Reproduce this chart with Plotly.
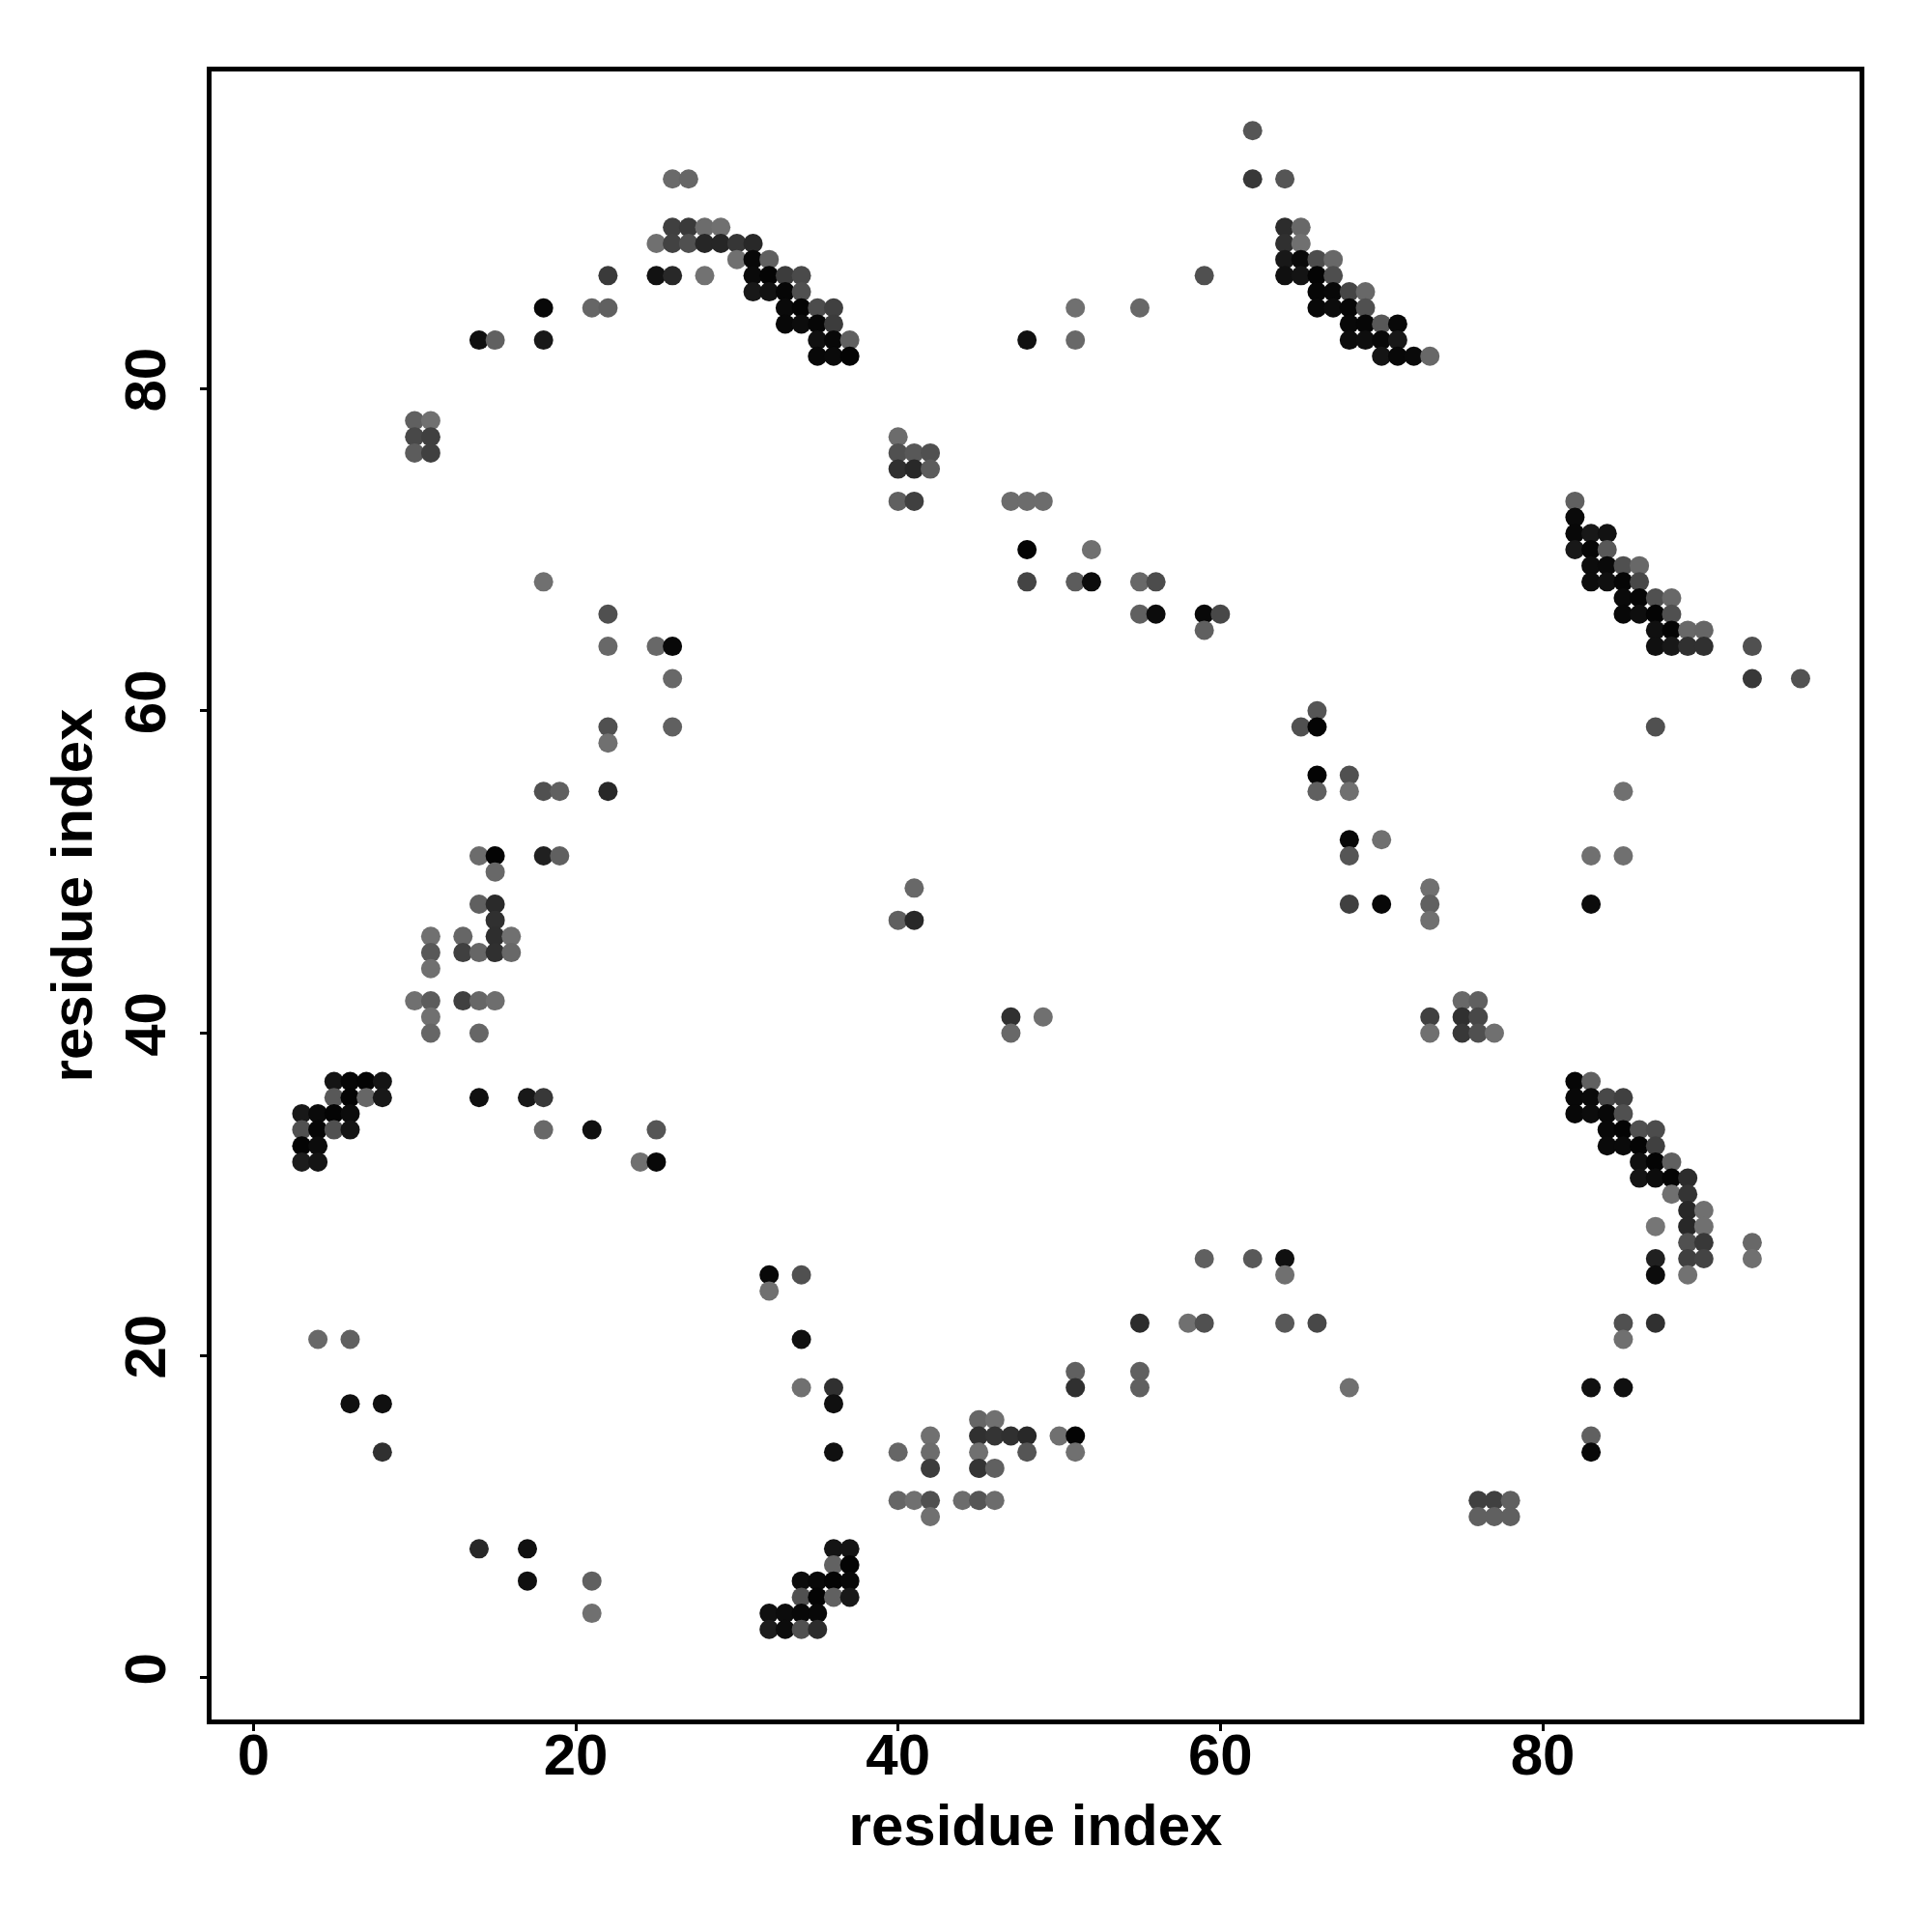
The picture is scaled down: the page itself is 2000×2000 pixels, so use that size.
import plotly.graph_objects as go

# Contacts, row by row: residue_x, residue_y and shade (0 = black, 255 = white)
residue_x = [
 62,
 26,27,62,64,
 26,27,28,29,64,65,
 25,26,27,28,29,30,31,64,65,
 30,31,32,64,65,66,67,
 22,25,26,28,31,32,33,34,59,64,65,66,67,
 31,32,33,34,66,67,68,69,
 18,21,22,33,34,35,36,51,55,66,67,68,69,
 33,34,35,36,68,69,70,71,
 14,15,18,35,36,37,48,51,68,69,70,71,
 35,36,37,70,71,72,73,
 10,11,
 10,11,40,
 10,11,40,41,42,
 40,41,42,
 40,41,47,48,49,82,
 82,
 82,83,84,
 48,52,82,83,84,
 83,84,85,86,
 18,48,51,52,55,56,83,84,85,86,
 85,86,87,88,
 22,55,56,59,60,85,86,87,88,
 59,87,88,89,90,
 22,25,26,87,88,89,90,93,
 26,93,96,
 66,
 22,26,65,66,87,
 22,
 66,68,
 18,19,22,66,68,85,
 68,70,
 14,15,18,19,68,83,85,
 15,
 41,73,
 14,15,68,70,73,83,
 15,40,41,73,
 11,13,15,16,
 11,13,14,15,16,
 11,
 10,11,13,14,15,75,76,
 11,47,49,73,75,76,
 11,14,47,73,75,76,77,
 5,6,7,8,82,83,
 5,6,7,8,14,17,18,82,83,84,85,
 3,4,5,6,82,83,84,85,
 3,4,5,6,18,21,25,84,85,86,87,
 3,4,84,85,86,87,
 3,4,24,25,86,87,88,
 86,87,88,89,
 88,89,
 89,90,
 87,89,90,
 89,90,93,
 59,62,64,87,89,90,93,
 32,34,64,87,89,
 32,
 55,58,59,64,66,85,87,
 4,6,34,85,
 51,55,
 34,36,51,55,68,83,85,
 6,8,36,
 45,46,
 42,45,46,47,48,50,51,83,
 8,36,40,42,45,48,51,83,
 42,45,46,
 40,41,42,44,45,46,76,77,78,
 42,76,77,78,
 14,17,36,37,
 36,37,
 17,21,34,35,36,37,
 34,35,36,37,
 21,32,33,34,35,
 32,33,34,35,
]
residue_y = [
 96,
 93,93,93,93,
 90,90,90,90,90,90,
 89,89,89,89,89,89,89,89,89,
 88,88,88,88,88,88,88,
 87,87,87,87,87,87,87,87,87,87,87,87,87,
 86,86,86,86,86,86,86,86,
 85,85,85,85,85,85,85,85,85,85,85,85,85,
 84,84,84,84,84,84,84,84,
 83,83,83,83,83,83,83,83,83,83,83,83,
 82,82,82,82,82,82,82,
 78,78,
 77,77,77,
 76,76,76,76,76,
 75,75,75,
 73,73,73,73,73,73,
 72,
 71,71,71,
 70,70,70,70,70,
 69,69,69,69,
 68,68,68,68,68,68,68,68,68,68,
 67,67,67,67,
 66,66,66,66,66,66,66,66,66,
 65,65,65,65,65,
 64,64,64,64,64,64,64,64,
 62,62,62,
 60,
 59,59,59,59,59,
 58,
 56,56,
 55,55,55,55,55,55,
 52,52,
 51,51,51,51,51,51,51,
 50,
 49,49,
 48,48,48,48,48,48,
 47,47,47,47,
 46,46,46,46,
 45,45,45,45,45,
 44,
 42,42,42,42,42,42,42,
 41,41,41,41,41,41,
 40,40,40,40,40,40,40,
 37,37,37,37,37,37,
 36,36,36,36,36,36,36,36,36,36,36,
 35,35,35,35,35,35,35,35,
 34,34,34,34,34,34,34,34,34,34,34,
 33,33,33,33,33,33,
 32,32,32,32,32,32,32,
 31,31,31,31,
 30,30,
 29,29,
 28,28,28,
 27,27,27,
 26,26,26,26,26,26,26,
 25,25,25,25,25,
 24,
 22,22,22,22,22,22,22,
 21,21,21,21,
 19,19,
 18,18,18,18,18,18,18,
 17,17,17,
 16,16,
 15,15,15,15,15,15,15,15,
 14,14,14,14,14,14,14,14,
 13,13,13,
 11,11,11,11,11,11,11,11,11,
 10,10,10,10,
 8,8,8,8,
 7,7,
 6,6,6,6,6,6,
 5,5,5,5,
 4,4,4,4,4,
 3,3,3,3,
]
shade = [
 0x55,
 0x6a,0x66,0x38,0x55,
 0x40,0x3a,0x6c,0x70,0x2c,0x68,
 0x70,0x42,0x50,0x26,0x26,0x36,0x28,0x30,0x70,
 0x70,0x08,0x60,0x18,0x0a,0x4c,0x68,
 0x3a,0x12,0x28,0x72,0x0a,0x04,0x3c,0x4a,0x50,0x10,0x14,0x04,0x4e,
 0x18,0x12,0x06,0x50,0x06,0x08,0x46,0x68,
 0x08,0x66,0x60,0x0a,0x04,0x4c,0x40,0x70,0x68,0x08,0x0c,0x06,0x50,
 0x08,0x0c,0x06,0x3c,0x08,0x06,0x58,0x08,
 0x10,0x60,0x18,0x10,0x08,0x60,0x10,0x68,0x0c,0x0e,0x08,0x18,
 0x08,0x0a,0x04,0x14,0x08,0x0a,0x68,
 0x60,0x70,
 0x48,0x40,0x6c,
 0x5c,0x40,0x50,0x58,0x50,
 0x30,0x28,0x5c,
 0x60,0x40,0x6c,0x6c,0x6c,0x60,
 0x0a,
 0x08,0x18,0x12,
 0x04,0x70,0x18,0x06,0x58,
 0x0c,0x0a,0x50,0x68,
 0x70,0x44,0x5c,0x0c,0x68,0x4c,0x0c,0x10,0x06,0x48,
 0x0a,0x06,0x50,0x68,
 0x50,0x60,0x0c,0x08,0x48,0x08,0x0e,0x04,0x50,
 0x60,0x10,0x04,0x68,0x66,
 0x68,0x68,0x08,0x10,0x18,0x30,0x30,0x50,
 0x68,0x38,0x52,
 0x55,
 0x50,0x60,0x50,0x04,0x50,
 0x70,
 0x04,0x50,
 0x50,0x60,0x28,0x60,0x70,0x70,
 0x08,0x70,
 0x6c,0x04,0x20,0x60,0x55,0x70,0x70,
 0x68,
 0x68,0x70,
 0x60,0x2a,0x40,0x08,0x60,0x0c,
 0x30,0x60,0x28,0x70,
 0x70,0x66,0x2e,0x70,
 0x58,0x40,0x66,0x30,0x68,
 0x70,
 0x70,0x5c,0x40,0x66,0x6e,0x68,0x60,
 0x70,0x30,0x70,0x40,0x30,0x48,
 0x66,0x66,0x68,0x70,0x38,0x50,0x70,
 0x14,0x06,0x04,0x14,0x06,0x60,
 0x58,0x04,0x66,0x18,0x10,0x18,0x38,0x08,0x0a,0x48,0x40,
 0x18,0x0a,0x04,0x0c,0x08,0x0c,0x08,0x50,
 0x50,0x06,0x50,0x14,0x68,0x10,0x55,0x08,0x04,0x50,0x4c,
 0x04,0x0c,0x0a,0x0a,0x04,0x40,
 0x1c,0x14,0x70,0x08,0x10,0x04,0x60,
 0x14,0x0c,0x04,0x2c,
 0x70,0x34,
 0x28,0x70,
 0x76,0x28,0x70,
 0x50,0x38,0x68,
 0x60,0x58,0x10,0x20,0x40,0x44,0x70,
 0x08,0x50,0x70,0x0c,0x72,
 0x70,
 0x2c,0x70,0x50,0x58,0x48,0x50,0x30,
 0x68,0x60,0x10,0x70,
 0x60,0x60,
 0x70,0x30,0x30,0x60,0x70,0x10,0x10,
 0x10,0x10,0x10,
 0x66,0x70,
 0x70,0x30,0x34,0x30,0x28,0x70,0x04,0x60,
 0x30,0x10,0x66,0x6c,0x70,0x55,0x70,0x08,
 0x3c,0x34,0x60,
 0x66,0x70,0x50,0x6c,0x55,0x6c,0x40,0x40,0x60,
 0x70,0x60,0x60,0x60,
 0x28,0x10,0x14,0x14,
 0x62,0x04,
 0x10,0x60,0x0c,0x08,0x04,0x08,
 0x50,0x04,0x60,0x18,
 0x70,0x10,0x0c,0x08,0x08,
 0x1c,0x0c,0x50,0x2c,
]
tick_values = [0, 20, 40, 60, 80]
axis_label = "residue index"

assert len(residue_x) == len(residue_y) == len(shade), (len(residue_x), len(residue_y), len(shade))

font = dict(family="Liberation Sans", size=60, color="black")
bold = "<b>%s</b>"

axis_style = dict(
    tickmode="array", tickvals=tick_values,
    ticktext=[bold % v for v in tick_values],
    ticks="outside", ticklen=7, tickwidth=3, tickcolor="black",
    showline=True, linewidth=5, linecolor="black", mirror=True,
    showgrid=False, zeroline=False, tickfont=font,
    title=dict(text=bold % axis_label, font=font),
)

fig = go.Figure(go.Scatter(
    x=residue_x, y=residue_y, mode="markers",
    marker=dict(size=20, color=shade, cmin=0, cmax=255,
                colorscale=[[0, "rgb(0,0,0)"], [1, "rgb(255,255,255)"]],
                line=dict(width=0)),
    showlegend=False,
))
fig.update_layout(
    width=1984, height=1984, autosize=False,
    margin=dict(l=210.5, r=66.5, t=65.5, b=211.5, autoexpand=False),
    paper_bgcolor="white", plot_bgcolor="white",
)
fig.update_xaxes(**axis_style, range=[-2.6, 99.66], ticklabelstandoff=-27)
fig.update_yaxes(**axis_style, range=[-2.59, 99.67], tickangle=-90, ticklabelstandoff=12)
fig.update_layout(xaxis_title_standoff=20, yaxis_title_standoff=4)
fig.write_html("out.html")
